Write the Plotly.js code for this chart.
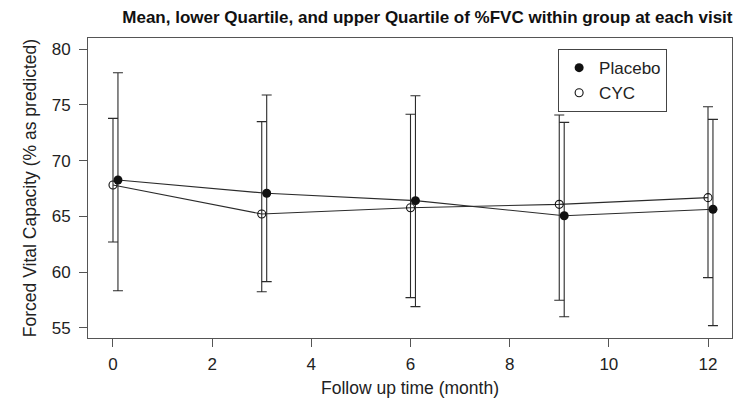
<!DOCTYPE html>
<html>
<head>
<meta charset="utf-8">
<script src="https://cdn.plot.ly/plotly-3.0.1.min.js"></script>
<style>html,body{margin:0;padding:0;background:#fff;}#chart{width:750px;height:404px;}</style>
</head>
<body>
<div id="chart"></div>
<script>
// Visits (months); placebo points are drawn slightly shifted right in the original
var visits = [0, 3, 6, 9, 12];
var placeboX = [0.1, 3.1, 6.1, 9.1, 12.1];
var cycX = [0, 3, 6, 9, 12];

var placeboMean = [68.26, 67.07, 66.41, 65.06, 65.64];
var placeboUpper = [77.88, 75.88, 75.82, 73.43, 73.70];
var placeboLower = [58.34, 59.15, 56.91, 56.01, 55.21];

var cycMean = [67.81, 65.22, 65.78, 66.08, 66.68];
var cycUpper = [73.79, 73.49, 74.15, 74.09, 74.83];
var cycLower = [62.71, 58.25, 57.72, 57.48, 59.51];

var xTicks = [0, 2, 4, 6, 8, 10, 12];
var yTicks = [55, 60, 65, 70, 75, 80];

function diff(a, b) { return a.map(function (v, i) { return v - b[i]; }); }

var ink = '#2b2b2b';
var font = 'Liberation Sans, Arial, Helvetica, sans-serif';

var traces = [
  { x: placeboX, y: placeboMean, mode: 'lines', line: { color: ink, width: 1.1 }, showlegend: false, hoverinfo: 'skip' },
  { x: cycX, y: cycMean, mode: 'lines', line: { color: ink, width: 1.1 }, showlegend: false, hoverinfo: 'skip' },
  {
    name: 'Placebo', x: placeboX, y: placeboMean, mode: 'markers',
    marker: { symbol: 'circle', size: 9, color: '#111' },
    error_y: { type: 'data', symmetric: false, array: diff(placeboUpper, placeboMean), arrayminus: diff(placeboMean, placeboLower), color: ink, thickness: 1.1, width: 5 }
  },
  {
    name: 'CYC', x: cycX, y: cycMean, mode: 'markers',
    marker: { symbol: 'circle-open', size: 8, color: '#111', line: { width: 1.1, color: '#111' } },
    error_y: { type: 'data', symmetric: false, array: diff(cycUpper, cycMean), arrayminus: diff(cycMean, cycLower), color: ink, thickness: 1.1, width: 5 }
  }
];

var layout = {
  width: 750, height: 404,
  margin: { l: 88, r: 18, t: 38, b: 66 },
  paper_bgcolor: '#fff', plot_bgcolor: '#fff',
  font: { family: font, color: '#222', size: 17 },
  title: {
    text: '<b>Mean, lower Quartile, and upper Quartile of %FVC within group at each visit</b>',
    font: { family: font, size: 17, color: '#111' },
    x: 0.527, xref: 'paper', xanchor: 'center', y: 0.957, yanchor: 'middle'
  },
  xaxis: {
    range: [-0.504, 12.484], tickvals: xTicks, ticktext: xTicks.map(String),
    ticks: 'outside', ticklen: 8, tickcolor: '#555', tickwidth: 1,
    showgrid: false, zeroline: false, showline: true, linecolor: '#555', linewidth: 1, mirror: true,
    ticklabelstandoff: 3,
    tickfont: { size: 17, family: font, color: '#222' },
    title: { text: 'Follow up time (month)', font: { size: 17.5, family: font, color: '#222' }, standoff: 8 },
    automargin: false
  },
  yaxis: {
    range: [54.1, 80.99], tickvals: yTicks, ticktext: yTicks.map(String),
    ticks: 'outside', ticklen: 8, tickcolor: '#555', tickwidth: 1,
    showgrid: false, zeroline: false, showline: true, linecolor: '#555', linewidth: 1, mirror: true,
    ticklabelstandoff: 5,
    tickfont: { size: 17, family: font, color: '#222' },
    title: { text: 'Forced Vital Capacity (% as predicted)', font: { size: 17.5, family: font, color: '#222' }, standoff: 10 },
    automargin: false
  },
  legend: {
    x: 0.73, y: 0.963, xanchor: 'left', yanchor: 'top',
    bordercolor: '#444', borderwidth: 1, bgcolor: '#fff',
    font: { size: 17, family: font, color: '#222' },
    itemwidth: 30
  },
  showlegend: true
};

Plotly.newPlot('chart', traces, layout, { displayModeBar: false, staticPlot: true });
</script>
</body>
</html>
